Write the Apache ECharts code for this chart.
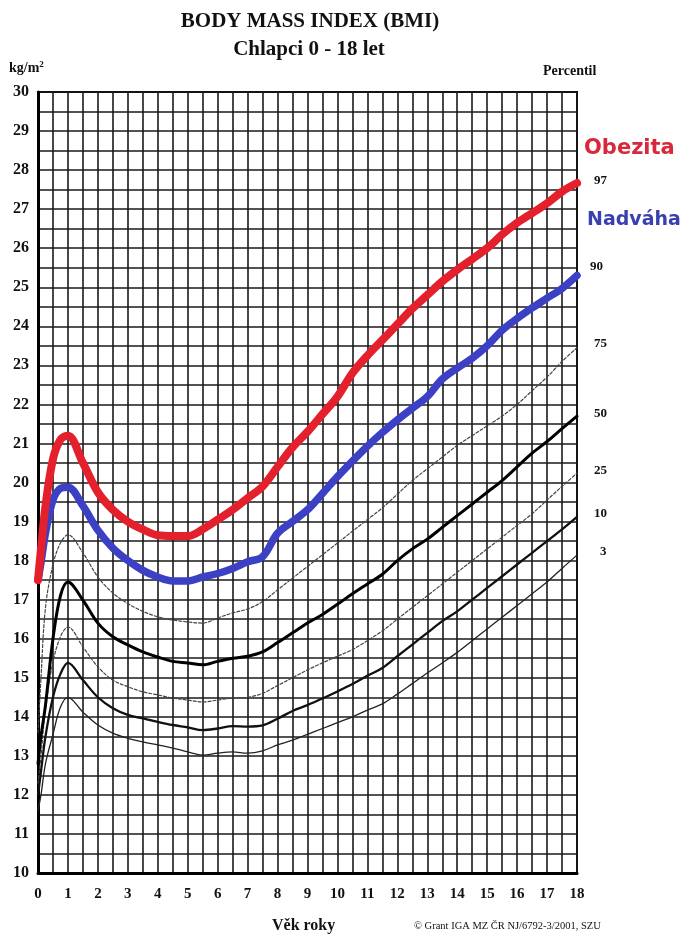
<!DOCTYPE html>
<html>
<head>
<meta charset="utf-8">
<script src="https://cdn.jsdelivr.net/npm/echarts@6/dist/echarts.min.js"></script>
<style>
html,body{margin:0;padding:0;background:#fff;}
#chart{width:684px;height:935px;}
</style>
</head>
<body>
<div id="chart"></div>
<script>
// Age (years)
var ages = [0, 0.1, 0.25, 0.5, 0.75, 1, 1.5, 2, 2.5, 3, 3.5, 4, 4.5, 5, 5.5, 6, 6.5, 7, 7.5, 8, 8.5, 9, 9.5, 10, 10.5, 11, 11.5, 12, 12.5, 13, 13.5, 14, 14.5, 15, 15.5, 16, 16.5, 17, 17.5, 18];
// BMI percentiles (kg/m2)
var p97 = [17.5, 18.3, 19.4, 20.6, 21.1, 21.2, 20.5, 19.75, 19.3, 19.0, 18.8, 18.65, 18.63, 18.63, 18.8, 19.05, 19.3, 19.6, 19.9, 20.4, 20.9, 21.3, 21.75, 22.2, 22.8, 23.25, 23.65, 24.05, 24.45, 24.8, 25.15, 25.45, 25.72, 26.0, 26.35, 26.65, 26.9, 27.15, 27.45, 27.67];
var p90 = [17.5, 17.95, 18.7, 19.55, 19.85, 19.88, 19.4, 18.78, 18.32, 18.0, 17.75, 17.58, 17.48, 17.48, 17.58, 17.67, 17.8, 17.97, 18.1, 18.7, 19.0, 19.3, 19.72, 20.15, 20.55, 20.93, 21.28, 21.6, 21.9, 22.2, 22.65, 22.93, 23.18, 23.5, 23.9, 24.2, 24.47, 24.72, 24.97, 25.3];
var p75 = [13.6, 15.0, 16.8, 17.9, 18.45, 18.66, 18.2, 17.58, 17.17, 16.9, 16.7, 16.56, 16.48, 16.43, 16.4, 16.53, 16.66, 16.76, 16.95, 17.25, 17.55, 17.85, 18.15, 18.45, 18.75, 19.05, 19.35, 19.7, 20.05, 20.35, 20.65, 20.95, 21.2, 21.45, 21.7, 22.0, 22.35, 22.7, 23.1, 23.45];
var p50 = [12.8, 13.5, 14.3, 16.0, 17.1, 17.45, 16.99, 16.4, 16.05, 15.84, 15.66, 15.53, 15.42, 15.38, 15.33, 15.42, 15.5, 15.55, 15.66, 15.9, 16.15, 16.4, 16.62, 16.88, 17.15, 17.4, 17.65, 18.0, 18.3, 18.55, 18.85, 19.15, 19.45, 19.75, 20.05, 20.4, 20.75, 21.05, 21.38, 21.7];
var p25 = [12.3, 13.0, 14.2, 15.4, 16.05, 16.3, 15.79, 15.28, 14.94, 14.77, 14.64, 14.56, 14.48, 14.43, 14.38, 14.43, 14.48, 14.5, 14.6, 14.8, 15.0, 15.2, 15.38, 15.55, 15.72, 15.95, 16.2, 16.5, 16.8, 17.1, 17.4, 17.7, 18.0, 18.3, 18.6, 18.9, 19.2, 19.55, 19.9, 20.24];
var p10 = [12.0, 12.6, 13.5, 14.5, 15.1, 15.38, 14.94, 14.5, 14.22, 14.05, 13.96, 13.87, 13.79, 13.73, 13.66, 13.7, 13.76, 13.75, 13.78, 13.95, 14.15, 14.3, 14.47, 14.65, 14.84, 15.05, 15.25, 15.55, 15.85, 16.15, 16.45, 16.7, 17.0, 17.3, 17.6, 17.9, 18.2, 18.5, 18.8, 19.12];
var p3 = [11.6, 12.0, 12.8, 13.55, 14.25, 14.5, 14.12, 13.79, 13.58, 13.45, 13.36, 13.28, 13.2, 13.1, 13.02, 13.07, 13.1, 13.07, 13.13, 13.28, 13.4, 13.55, 13.7, 13.85, 14.0, 14.17, 14.33, 14.58, 14.85, 15.12, 15.38, 15.65, 15.95, 16.25, 16.55, 16.85, 17.15, 17.45, 17.8, 18.14];
// Labels
var titleLines = ["BODY MASS INDEX (BMI)", "Chlapci 0 - 18 let"];
var percentileLabels = ["97", "90", "75", "50", "25", "10", "3"];
var categoryLabels = ["Obezita", "Nadváha"];

function pts(arr) { return ages.map(function (a, i) { return [a, arr[i]]; }); }

var serif = "'Liberation Serif', 'DejaVu Serif', serif";
var chart = echarts.init(document.getElementById('chart'), null, { renderer: 'canvas' });

function lineSeries(name, arr, color, width, type, z) {
  return {
    name: name, type: 'line', data: pts(arr), smooth: 0.35, symbol: 'none', z: z,
    lineStyle: { color: color, width: width, type: type, cap: 'round', join: 'round' },
    silent: true
  };
}

var option = {
  animation: false,
  backgroundColor: '#fff',
  grid: { left: 38, right: 107, top: 92, bottom: 62, show: true, borderColor: '#000', borderWidth: 2 },
  xAxis: {
    type: 'value', min: 0, max: 18, interval: 0.5,
    axisLine: { show: true, lineStyle: { color: '#000', width: 3 } },
    axisTick: { show: false },
    splitLine: { show: true, lineStyle: { color: '#1a1a1a', width: 1.6 } },
    axisLabel: {
      margin: 14, fontFamily: serif, fontWeight: 'bold', fontSize: 15, color: '#111',
      formatter: function (v) { return Number.isInteger(v) ? String(v) : ''; }
    }
  },
  yAxis: {
    type: 'value', min: 10, max: 30, interval: 0.5,
    axisLine: { show: true, lineStyle: { color: '#000', width: 3 } },
    axisTick: { show: false },
    splitLine: { show: true, lineStyle: { color: '#1a1a1a', width: 1.6 } },
    axisLabel: {
      margin: 9, fontFamily: serif, fontWeight: 'bold', fontSize: 16, color: '#111',
      formatter: function (v) { return Number.isInteger(v) ? String(v) : ''; }
    }
  },
  series: [
    lineSeries('3', p3, '#222', 1.3, 'solid', 3),
    lineSeries('10', p10, '#111', 2.3, 'solid', 3),
    lineSeries('25', p25, '#444', 1.2, [3, 2], 3),
    lineSeries('50', p50, '#000', 3, 'solid', 3),
    lineSeries('75', p75, '#444', 1.2, [3, 2], 3),
    lineSeries('90', p90, '#3c40c4', 7.5, 'solid', 5),
    lineSeries('97', p97, '#e3202c', 8, 'solid', 6)
  ],
  graphic: [
    { type: 'text', x: 310, y: 11, style: { text: titleLines[0], font: 'bold 21px ' + serif, fill: '#111', textAlign: 'center' } },
    { type: 'text', x: 309, y: 39, style: { text: titleLines[1], font: 'bold 21px ' + serif, fill: '#111', textAlign: 'center' } },
    { type: 'text', x: 9, y: 60, style: { text: '{a|kg/m}{b|2}', rich: { a: { font: 'bold 14px ' + serif, fill: '#111' }, b: { font: 'bold 9px ' + serif, fill: '#111', verticalAlign: 'top', padding: [0, 0, 8, 0] } } } },
    { type: 'text', x: 543, y: 64, style: { text: 'Percentil', font: 'bold 14px ' + serif, fill: '#111' } },
    { type: 'text', x: 584, y: 138, style: { text: categoryLabels[0], font: 'bold 21px DejaVu Sans', fill: '#d8283a' } },
    { type: 'text', x: 587, y: 211, style: { text: categoryLabels[1], font: 'bold 19px DejaVu Sans', fill: '#3b40b0' } },
    { type: 'text', x: 594, y: 174, style: { text: percentileLabels[0], font: 'bold 13px ' + serif, fill: '#111' } },
    { type: 'text', x: 590, y: 260, style: { text: percentileLabels[1], font: 'bold 13px ' + serif, fill: '#111' } },
    { type: 'text', x: 594, y: 337, style: { text: percentileLabels[2], font: 'bold 13px ' + serif, fill: '#111' } },
    { type: 'text', x: 594, y: 407, style: { text: percentileLabels[3], font: 'bold 13px ' + serif, fill: '#111' } },
    { type: 'text', x: 594, y: 464, style: { text: percentileLabels[4], font: 'bold 13px ' + serif, fill: '#111' } },
    { type: 'text', x: 594, y: 507, style: { text: percentileLabels[5], font: 'bold 13px ' + serif, fill: '#111' } },
    { type: 'text', x: 600, y: 545, style: { text: percentileLabels[6], font: 'bold 13px ' + serif, fill: '#111' } },
    { type: 'text', x: 272, y: 918, style: { text: 'Věk roky', font: 'bold 16px ' + serif, fill: '#111' } },
    { type: 'text', x: 414, y: 921, style: { text: '© Grant IGA MZ ČR NJ/6792-3/2001, SZU', font: '10.5px ' + serif, fill: '#111' } }
  ]
};
chart.setOption(option);
</script>
</body>
</html>
